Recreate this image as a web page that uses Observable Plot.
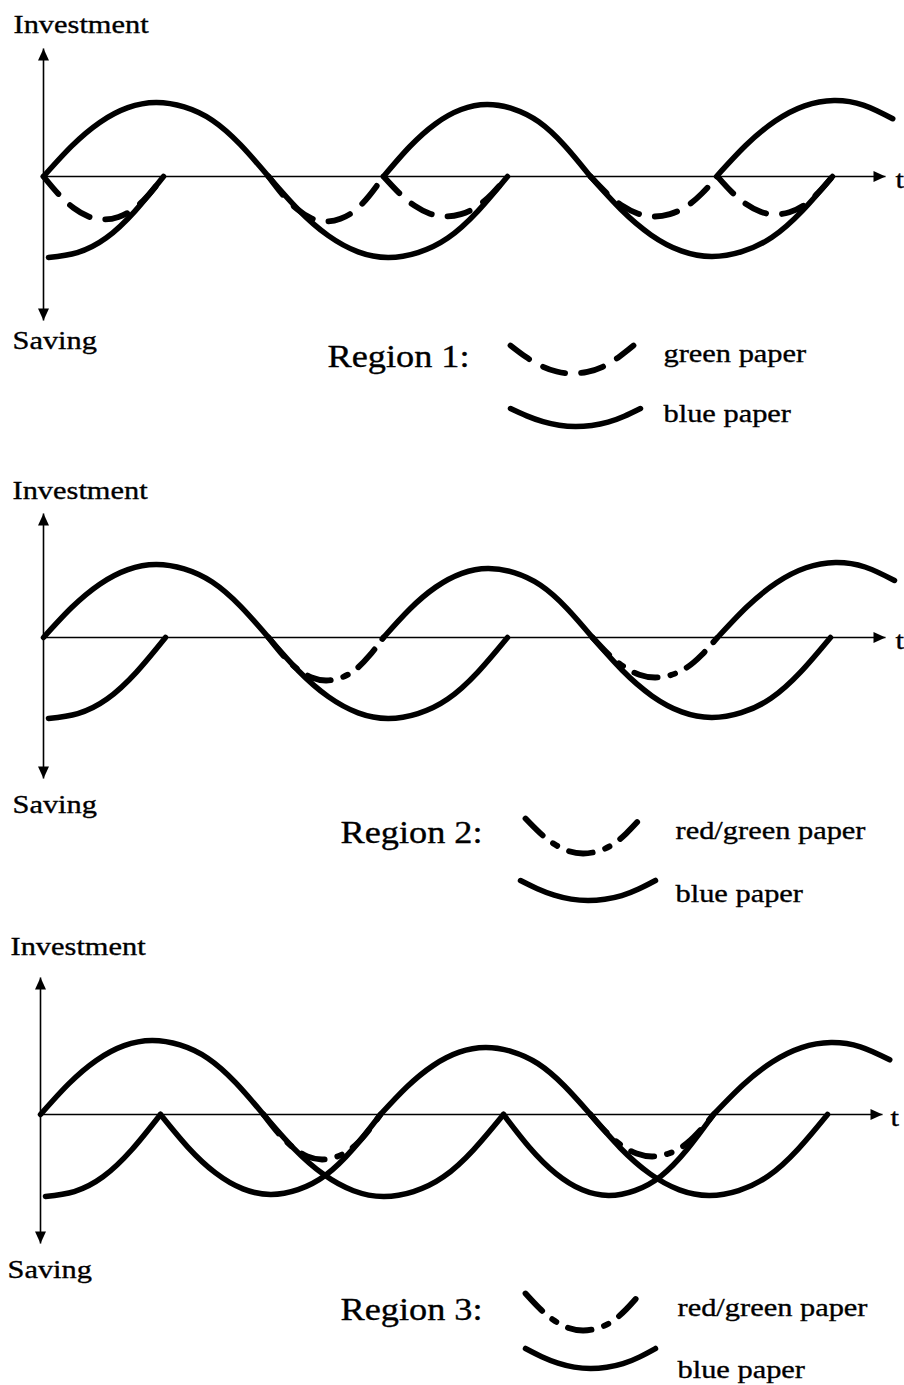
<!DOCTYPE html>
<html>
<head>
<meta charset="utf-8">
<script src="https://cdn.jsdelivr.net/npm/d3@7"></script>
<script src="https://cdn.jsdelivr.net/npm/@observablehq/plot@0.6"></script>
<style>
  html, body { margin: 0; padding: 0; background: #fff; }
  #chart svg { display: block; }
</style>
</head>
<body>
<div id="chart"></div>
<script>
// ---------- DATA ----------
// Normalized half-wave shape of every arc: fraction of width -> fraction of height
const profileU = [0, 0.125, 0.25, 0.375, 0.5, 0.625, 0.75, 0.875, 1];
const profileV = [0, 0.41, 0.73, 0.93, 1, 0.94, 0.76, 0.43, 0];

// Arcs: start time t0, end time t1, amp (+ investment / - saving), drawn fraction from..to
// Region 1
const investment1 = [{t0: 0, t1: 22.5, amp: 7.4}, {t0: 34.0, t1: 54.7, amp: 7.2}, {t0: 67.3, t1: 90.8, amp: 7.6, to: 0.75}];
const saving1 = [{t0: -11.0, t1: 12.0, amp: -8.1, from: 0.5}, {t0: 22.5, t1: 46.4, amp: -8.1}, {t0: 54.7, t1: 78.9, amp: -8.0}];
const greenPaper1 = [{t0: 0, t1: 12.0, amp: -4.3}, {t0: 22.5, t1: 34.0, amp: -4.5}, {t0: 34.0, t1: 46.4, amp: -4.0}, {t0: 54.7, t1: 67.4, amp: -4.0}, {t0: 67.4, t1: 78.9, amp: -3.8}];
// Region 2
const investment2 = [{t0: 0, t1: 22.5, amp: 7.3}, {t0: 34.0, t1: 54.9, amp: 6.9}, {t0: 67.4, t1: 91.0, amp: 7.5, to: 0.75}];
const saving2 = [{t0: -11.2, t1: 12.2, amp: -8.1, from: 0.5}, {t0: 22.5, t1: 46.4, amp: -8.1}, {t0: 54.9, t1: 78.7, amp: -8.0}];
const redGreenPaper2 = [{t0: 22.5, t1: 34.0, amp: -4.3}, {t0: 54.9, t1: 67.4, amp: -4.0}];
// Region 3
const investment3 = [{t0: 0, t1: 22.3, amp: 7.4}, {t0: 34.0, t1: 55.0, amp: 6.7}, {t0: 67.3, t1: 90.8, amp: 7.2, to: 0.75}];
const saving3 = [{t0: -11.0, t1: 12.0, amp: -8.2, from: 0.5}, {t0: 12.0, t1: 34.0, amp: -8.0}, {t0: 22.3, t1: 46.3, amp: -8.2}, {t0: 46.3, t1: 67.3, amp: -8.1}, {t0: 55.0, t1: 78.7, amp: -8.1}];
const redGreenPaper3 = [{t0: 22.3, t1: 34.0, amp: -4.5}, {t0: 55.0, t1: 67.3, amp: -4.2}];

// Legend key samples (arc swatches)
const keyBroken = [
  [{t0: 46.7, t1: 59.0, base: -16.9, amp: -2.8}],
  [{t0: 48.2, t1: 59.7, base: -18.1, amp: -3.5}],
  [{t0: 48.5, t1: 60.0, base: -17.9, amp: -3.7}]
];
const keySolid = [
  [{t0: 46.7, t1: 59.7, base: -23.2, amp: -1.8}],
  [{t0: 47.7, t1: 61.2, base: -24.3, amp: -2.0}],
  [{t0: 48.5, t1: 61.5, base: -23.4, amp: -2.0}]
];

// Texts
const regionTitles = ["Region 1:", "Region 2:", "Region 3:"];
const brokenLabels = ["green paper", "red/green paper", "red/green paper"];
const solidLabel = "blue paper";
const yTopLabel = "Investment";
const yBottomLabel = "Saving";
const xLabel = "t";

// ---------- LAYOUT ----------
const W = 904, UNIT = 10;
const panels = [
  {height: 462, originX: 43, axisY: 176, axis: {top: 12.8, bottom: -14.4, end: 84.2},
   solid: [...investment1, ...saving1], broken: greenPaper1, dash: "23,16",
   pos: {inv: [-3.0, 15.2], sav: [-3.1, -16.4], t: [85.2, -0.3], region: [28.4, -18.1], broken: [62.0, -17.7], solid: [62.0, -23.7]}},
  {height: 462, originX: 43, axisY: 175, axis: {top: 12.4, bottom: -14.1, end: 84.2},
   solid: [...investment2, ...saving2], broken: redGreenPaper2, dash: "24,13,5,13",
   pos: {inv: [-3.1, 14.7], sav: [-3.1, -16.7], t: [85.2, -0.3], region: [29.7, -19.6], broken: [63.2, -19.3], solid: [63.2, -25.6]}},
  {height: 461, originX: 40, axisY: 190, axis: {top: 13.7, bottom: -12.9, end: 84.2},
   solid: [...investment3, ...saving3], broken: redGreenPaper3, dash: "24,13,5,13",
   pos: {inv: [-3.0, 16.8], sav: [-3.3, -15.5], t: [85.0, -0.3], region: [30.0, -19.6], broken: [63.7, -19.3], solid: [63.7, -25.5]}}
];

const HEAD_LEN = 12, HEAD_HALF = 5.5;
const arrowUp = {draw(c) { c.moveTo(0, 0); c.lineTo(HEAD_HALF, HEAD_LEN); c.lineTo(-HEAD_HALF, HEAD_LEN); c.closePath(); }};
const arrowDown = {draw(c) { c.moveTo(0, 0); c.lineTo(HEAD_HALF, -HEAD_LEN); c.lineTo(-HEAD_HALF, -HEAD_LEN); c.closePath(); }};
const arrowRight = {draw(c) { c.moveTo(0, 0); c.lineTo(-HEAD_LEN, -HEAD_HALF); c.lineTo(-HEAD_LEN, HEAD_HALF); c.closePath(); }};

const FONT = "'Liberation Serif', 'Times New Roman', Times, serif";
const INK = "#000";

function arcRows(arcs, key) {
  const rows = [];
  arcs.forEach((a, k) => {
    const from = a.from ?? 0, to = a.to ?? 1, base = a.base ?? 0;
    profileU.forEach((u, i) => {
      if (u < from - 1e-9 || u > to + 1e-9) return;
      rows.push({id: key + k, t: a.t0 + u * (a.t1 - a.t0), v: base + a.amp * profileV[i]});
    });
  });
  return rows;
}

const root = document.getElementById("chart");

panels.forEach((p, idx) => {
  const ax = p.axis;
  const axisLines = [
    {x1: 0, y1: 0, x2: ax.end, y2: 0},
    {x1: 0, y1: ax.bottom, x2: 0, y2: ax.top}
  ];
  const smallText = [
    {t: p.pos.inv[0], v: p.pos.inv[1], label: yTopLabel},
    {t: p.pos.sav[0], v: p.pos.sav[1], label: yBottomLabel},
    {t: p.pos.t[0], v: p.pos.t[1], label: xLabel},
    {t: p.pos.broken[0], v: p.pos.broken[1], label: brokenLabels[idx]},
    {t: p.pos.solid[0], v: p.pos.solid[1], label: solidLabel}
  ];
  const bigText = [{t: p.pos.region[0], v: p.pos.region[1], label: regionTitles[idx]}];

  const svg = Plot.plot({
    width: W,
    height: p.height,
    margin: 0,
    x: {domain: [-p.originX / UNIT, (W - p.originX) / UNIT], axis: null},
    y: {domain: [-(p.height - p.axisY) / UNIT, p.axisY / UNIT], axis: null},
    style: {background: "#fff", overflow: "visible"},
    marks: [
      Plot.link(axisLines, {x1: "x1", y1: "y1", x2: "x2", y2: "y2", stroke: INK, strokeWidth: 1.6}),
      Plot.dot([{t: ax.end, v: 0}], {x: "t", y: "v", symbol: arrowRight, fill: INK, stroke: "none"}),
      Plot.dot([{t: 0, v: ax.top}], {x: "t", y: "v", symbol: arrowUp, fill: INK, stroke: "none"}),
      Plot.dot([{t: 0, v: ax.bottom}], {x: "t", y: "v", symbol: arrowDown, fill: INK, stroke: "none"}),
      Plot.line(arcRows([...p.solid, ...keySolid[idx]], "s"), {
        x: "t", y: "v", z: "id", curve: "natural", stroke: INK, strokeWidth: 5.5, fill: "none"
      }),
      Plot.line(arcRows([...p.broken, ...keyBroken[idx]], "b"), {
        x: "t", y: "v", z: "id", curve: "natural", stroke: INK, strokeWidth: 5.8, fill: "none",
        strokeDasharray: p.dash
      }),
      Plot.text(smallText, {x: "t", y: "v", text: "label", textAnchor: "start", lineAnchor: "middle",
        fontSize: 26, fontFamily: FONT, fill: INK, stroke: INK, strokeWidth: 0.35}),
      Plot.text(bigText, {x: "t", y: "v", text: "label", textAnchor: "start", lineAnchor: "middle",
        fontSize: 31, fontFamily: FONT, fill: INK, stroke: INK, strokeWidth: 0.35})
    ]
  });
  root.appendChild(svg);
});

// the scanned lettering is horizontally wider than the font: widen each label
const STRETCH = 1.17;
root.querySelectorAll("text").forEach((el) => {
  const w = el.getComputedTextLength();
  if (w > 0) {
    el.setAttribute("textLength", (w * STRETCH).toFixed(1));
    el.setAttribute("lengthAdjust", "spacingAndGlyphs");
  }
});
</script>
</body>
</html>
